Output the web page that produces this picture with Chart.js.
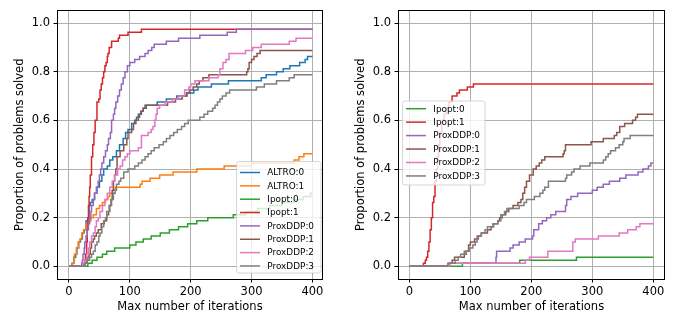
<!DOCTYPE html>
<html>
<head>
<meta charset="utf-8">
<script src="https://cdn.jsdelivr.net/npm/chart.js@4.4.1/dist/chart.umd.min.js"></script>
<style>
  html, body { margin: 0; padding: 0; background: #fff; }
  #wrap { position: relative; width: 683px; height: 320px; overflow: hidden; }
  canvas { position: absolute; top: 0; }
</style>
</head>
<body>
<div id="wrap">
  <canvas id="leftPlot" width="341" height="320" style="left:0px"></canvas>
  <canvas id="rightPlot" width="342" height="320" style="left:341px"></canvas>
</div>
<script>
// Tick values shared by both panels
const xTicks = [0, 100, 200, 300, 400];
const yTicks = [0.0, 0.2, 0.4, 0.6, 0.8, 1.0];

// Solver names drawn in each panel (legend order)
const leftNames = ['ALTRO:0', 'ALTRO:1', 'Ipopt:0', 'Ipopt:1', 'ProxDDP:0', 'ProxDDP:1', 'ProxDDP:2', 'ProxDDP:3'];
const rightNames = ['Ipopt:0', 'Ipopt:1', 'ProxDDP:0', 'ProxDDP:1', 'ProxDDP:2', 'ProxDDP:3'];

// Cumulative fraction of solved problems: [iterations, fraction]
// Left panel
const leftAltro0 = [[0,0],[5,0.0125],[8,0.0375],[11,0.05],[13,0.075],[16,0.1],[19,0.1125],[22,0.1375],[25,0.15],[28,0.1875],[31,0.2],[33,0.25],[35,0.2625],[38,0.275],[42,0.3],[46,0.325],[50,0.35],[54,0.375],[57,0.4],[63,0.4125],[67,0.4375],[72,0.45],[78,0.475],[83,0.5],[89,0.525],[93,0.55],[97,0.5625],[103,0.5875],[108,0.6],[111,0.6125],[116,0.625],[119,0.6375],[122,0.65],[125,0.6625],[145,0.675],[160,0.6875],[177,0.7],[193,0.7125],[205,0.725],[212,0.7375],[234,0.75],[262,0.7625],[316,0.775],[324,0.7875],[341,0.8],[352,0.8125],[363,0.825],[379,0.8375],[388,0.85],[392,0.8625],[400,0.8625]];
const leftAltro1 = [[0,0],[6,0.0125],[8,0.025],[9,0.05],[12,0.075],[15,0.1],[18,0.1125],[21,0.1375],[24,0.15],[28,0.175],[32,0.1875],[36,0.2],[40,0.2125],[45,0.2375],[50,0.25],[55,0.2625],[60,0.275],[64,0.2875],[67,0.3],[72,0.3125],[76,0.325],[117,0.3375],[120,0.35],[133,0.3625],[149,0.375],[171,0.3875],[210,0.4],[255,0.4125],[300,0.425],[370,0.4375],[378,0.45],[386,0.4625],[400,0.4625]];
const leftIpopt0 = [[0,0],[31,0.0125],[38,0.025],[46,0.0375],[55,0.05],[62,0.0625],[75,0.075],[100,0.0875],[110,0.1],[122,0.1125],[135,0.125],[150,0.1375],[165,0.15],[180,0.1625],[195,0.175],[210,0.1875],[228,0.2],[270,0.2125],[290,0.225],[310,0.2375],[330,0.25],[350,0.2625],[368,0.275],[385,0.2875],[397,0.3],[400,0.3]];
const leftIpopt1 = [[0,0],[24,0.0125],[26,0.025],[27,0.05],[29,0.1],[30,0.15],[31,0.2],[32,0.25],[33,0.2875],[34,0.325],[35,0.375],[37,0.45],[39,0.5],[41,0.55],[43,0.6],[46,0.675],[49,0.6875],[51,0.725],[53,0.75],[55,0.775],[57,0.8],[59,0.825],[61,0.8375],[63,0.8625],[64,0.875],[66,0.9],[70,0.925],[81,0.9375],[83,0.95],[97,0.9625],[119,0.975],[400,0.975]];
const leftProx0 = [[0,0],[21,0.0125],[22,0.025],[23,0.05],[25,0.075],[26,0.1],[28,0.125],[30,0.15],[32,0.175],[34,0.2],[36,0.225],[37,0.25],[40,0.275],[42,0.3],[45,0.325],[48,0.35],[50,0.375],[52,0.4],[54,0.425],[57,0.45],[60,0.475],[63,0.5],[65,0.525],[68,0.55],[70,0.6],[73,0.625],[75,0.65],[77,0.675],[80,0.7],[83,0.725],[86,0.75],[89,0.775],[92,0.8],[96,0.825],[100,0.8375],[108,0.85],[116,0.8625],[125,0.875],[130,0.8875],[136,0.9],[140,0.9125],[160,0.925],[180,0.9375],[215,0.95],[260,0.9625],[275,0.975],[400,0.975]];
const leftProx1 = [[0,0],[26,0.0125],[29,0.025],[31,0.0375],[33,0.05],[35,0.075],[37,0.1],[40,0.1125],[42,0.125],[45,0.1375],[48,0.15],[53,0.175],[58,0.1875],[62,0.2125],[65,0.225],[67,0.25],[69,0.275],[71,0.3125],[73,0.35],[75,0.375],[77,0.4],[79,0.45],[84,0.475],[90,0.5],[95,0.525],[97,0.55],[103,0.5625],[106,0.5875],[110,0.6],[114,0.625],[118,0.6375],[122,0.65],[127,0.6625],[162,0.675],[175,0.6875],[186,0.7],[194,0.7125],[198,0.725],[204,0.7375],[210,0.75],[214,0.7625],[220,0.775],[230,0.7875],[292,0.8],[294,0.8125],[296,0.8375],[300,0.85],[304,0.8625],[309,0.875],[314,0.8875],[400,0.8875]];
const leftProx2 = [[0,0],[23,0.0125],[26,0.025],[29,0.05],[32,0.075],[34,0.1],[37,0.125],[40,0.1375],[43,0.1625],[45,0.1875],[48,0.2],[51,0.225],[55,0.25],[59,0.275],[63,0.3],[67,0.325],[71,0.35],[75,0.375],[80,0.4],[84,0.4125],[88,0.4375],[92,0.45],[96,0.4625],[100,0.475],[114,0.4875],[119,0.5375],[130,0.55],[135,0.5625],[138,0.575],[141,0.6],[143,0.625],[145,0.65],[149,0.6625],[158,0.675],[170,0.6875],[180,0.7],[190,0.725],[197,0.7375],[200,0.75],[207,0.7625],[230,0.775],[245,0.7875],[248,0.8125],[253,0.8375],[258,0.85],[263,0.875],[290,0.8875],[302,0.9],[316,0.9125],[362,0.925],[373,0.9375],[400,0.9375]];
const leftProx3 = [[0,0],[26,0.0125],[30,0.025],[34,0.0375],[37,0.05],[40,0.0625],[43,0.0875],[46,0.1],[49,0.125],[51,0.1375],[54,0.1625],[57,0.1875],[60,0.2],[62,0.225],[66,0.25],[70,0.275],[73,0.3],[76,0.3125],[78,0.3375],[82,0.35],[85,0.3625],[90,0.3875],[97,0.4],[108,0.4125],[114,0.425],[120,0.4375],[125,0.45],[130,0.4625],[135,0.475],[140,0.4875],[148,0.5],[155,0.5125],[160,0.525],[166,0.5375],[172,0.55],[178,0.5625],[185,0.575],[190,0.5875],[196,0.6],[215,0.6125],[222,0.625],[228,0.6375],[236,0.65],[240,0.6625],[244,0.675],[248,0.6875],[252,0.7],[258,0.7125],[264,0.725],[308,0.7375],[321,0.75],[341,0.7625],[362,0.775],[370,0.7875],[400,0.7875]];

// Right panel
const rightIpopt0 = [[0,0],[87,0.0125],[181,0.025],[274,0.0375],[400,0.0375]];
const rightIpopt1 = [[0,0],[23,0.0125],[26,0.025],[28,0.0375],[30,0.0625],[32,0.1],[34,0.15],[36,0.2],[38,0.2625],[40,0.2875],[42,0.35],[44,0.4],[46,0.45],[48,0.5],[50,0.55],[53,0.6],[57,0.625],[60,0.65],[65,0.675],[70,0.7],[78,0.7125],[82,0.725],[95,0.7375],[105,0.75],[400,0.75]];
const rightProx0 = [[0,0],[65,0.0125],[142,0.0375],[143,0.0625],[165,0.075],[170,0.0875],[180,0.1],[190,0.1125],[202,0.125],[204,0.15],[212,0.175],[218,0.1875],[225,0.2],[232,0.2125],[240,0.225],[256,0.25],[258,0.275],[265,0.2875],[276,0.3],[300,0.3125],[308,0.325],[318,0.3375],[328,0.35],[345,0.3625],[355,0.375],[375,0.3875],[383,0.4],[392,0.4125],[396,0.425],[400,0.425]];
const rightProx1 = [[0,0],[66,0.0125],[70,0.025],[74,0.0375],[90,0.05],[93,0.0625],[97,0.0875],[100,0.1],[107,0.1125],[113,0.125],[118,0.1375],[128,0.15],[134,0.1625],[138,0.175],[145,0.1875],[148,0.2],[152,0.2125],[158,0.225],[163,0.2375],[170,0.25],[178,0.2625],[183,0.275],[186,0.3],[189,0.325],[192,0.35],[197,0.375],[203,0.4],[208,0.4125],[213,0.425],[217,0.4375],[222,0.45],[252,0.4625],[254,0.475],[256,0.5],[298,0.5125],[318,0.525],[336,0.5375],[340,0.55],[345,0.575],[353,0.5875],[366,0.6],[371,0.6125],[374,0.625],[400,0.625]];
const rightProx2 = [[0,0],[66,0.0125],[190,0.025],[197,0.0375],[227,0.0625],[268,0.1],[272,0.1125],[310,0.125],[344,0.1375],[358,0.15],[372,0.1625],[378,0.175],[400,0.175]];
const rightProx3 = [[0,0],[63,0.0125],[75,0.025],[80,0.0375],[84,0.05],[90,0.0625],[98,0.075],[104,0.0875],[108,0.1],[111,0.125],[118,0.1375],[124,0.15],[128,0.1625],[137,0.175],[145,0.1875],[150,0.2125],[156,0.225],[160,0.2375],[180,0.25],[188,0.2625],[192,0.275],[205,0.2875],[214,0.3],[219,0.3125],[222,0.325],[228,0.35],[256,0.3625],[258,0.375],[266,0.3875],[270,0.4],[280,0.4125],[296,0.425],[318,0.4375],[322,0.45],[326,0.4625],[330,0.475],[338,0.4875],[344,0.5],[350,0.5125],[352,0.525],[362,0.5375],[400,0.5375]];

const leftData = [leftAltro0, leftAltro1, leftIpopt0, leftIpopt1, leftProx0, leftProx1, leftProx2, leftProx3];
const rightData = [rightIpopt0, rightIpopt1, rightProx0, rightProx1, rightProx2, rightProx3];

// matplotlib "tab10" colours per solver
const solverColor = {
  'ALTRO:0': '#1f77b4', 'ALTRO:1': '#ff7f0e', 'Ipopt:0': '#2ca02c', 'Ipopt:1': '#d62728',
  'ProxDDP:0': '#9467bd', 'ProxDDP:1': '#8c564b', 'ProxDDP:2': '#e377c2', 'ProxDDP:3': '#7f7f7f'
};

const FONT = 'DejaVu Sans';

function roundedRect(ctx, x, y, w, h, r) {
  ctx.beginPath();
  ctx.moveTo(x + r, y);
  ctx.lineTo(x + w - r, y);
  ctx.arcTo(x + w, y, x + w, y + r, r);
  ctx.lineTo(x + w, y + h - r);
  ctx.arcTo(x + w, y + h, x + w - r, y + h, r);
  ctx.lineTo(x + r, y + h);
  ctx.arcTo(x, y + h, x, y + h - r, r);
  ctx.lineTo(x, y + r);
  ctx.arcTo(x, y, x + r, y, r);
  ctx.closePath();
}

// Axes frame on all four sides plus a boxed legend inside the plot area
const framePlugin = {
  id: 'frameAndLegend',
  afterDatasetsDraw(chart, args, opts) {
    const ctx = chart.ctx;
    const a = chart.chartArea;
    ctx.save();
    ctx.strokeStyle = '#000';
    ctx.lineWidth = 1;
    ctx.strokeRect(Math.round(a.left) + 0.5, Math.round(a.top) + 0.5,
                   Math.round(a.right) - Math.round(a.left) - 1, Math.round(a.bottom) - Math.round(a.top));

    const lg = opts.legend;
    if (lg) {
      roundedRect(ctx, lg.x, lg.y, lg.w, lg.h, 2.5);
      ctx.fillStyle = 'rgba(255,255,255,0.8)';
      ctx.fill();
      ctx.strokeStyle = '#cccccc';
      ctx.lineWidth = 0.8;
      ctx.stroke();
      ctx.font = lg.fontSize + 'px "' + FONT + '"';
      ctx.textBaseline = 'middle';
      ctx.textAlign = 'left';
      chart.data.datasets.forEach((ds, i) => {
        const yy = lg.firstRow + i * lg.rowStep;
        ctx.strokeStyle = ds.borderColor;
        ctx.lineWidth = 1.5;
        ctx.beginPath();
        ctx.moveTo(lg.lineX0, yy);
        ctx.lineTo(lg.lineX1, yy);
        ctx.stroke();
        ctx.fillStyle = '#000';
        ctx.fillText(ds.label, lg.textX, yy + 0.5);
      });
    }
    ctx.restore();
  }
};

function makePanel(canvasId, names, series, xRange, legend) {
  const datasets = names.map((name, i) => ({
    label: name,
    data: series[i].map(([x, y]) => ({ x, y })),
    borderColor: solverColor[name],
    backgroundColor: solverColor[name],
    borderWidth: 1.5,
    pointRadius: 0,
    stepped: 'before',
    fill: false,
    order: names.length - i
  }));

  const tickFont = { family: FONT, size: 11.5 };
  return new Chart(document.getElementById(canvasId), {
    type: 'line',
    data: { datasets },
    options: {
      responsive: false,
      animation: false,
      events: [],
      layout: { padding: { left: 0, right: 18, top: 5, bottom: 0 } },
      plugins: {
        legend: { display: false },
        tooltip: { enabled: false },
        frameAndLegend: { legend }
      },
      scales: {
        x: {
          type: 'linear',
          min: xRange[0],
          max: xRange[1],
          afterBuildTicks: s => { s.ticks = xTicks.map(v => ({ value: v })); },
          afterFit: s => { s.height = 41; },
          ticks: { font: tickFont, color: '#000', padding: 3, maxRotation: 0, autoSkip: false,
                   callback: v => String(v) },
          grid: { color: '#b0b0b0', lineWidth: 1, tickLength: 3.5, tickColor: '#000', tickWidth: 1 },
          border: { display: false },
          title: { display: true, text: 'Max number of iterations', font: tickFont, color: '#000',
                   padding: { top: 0, bottom: 6 } }
        },
        y: {
          type: 'linear',
          min: -0.052,
          max: 1.052,
          afterBuildTicks: s => { s.ticks = yTicks.map(v => ({ value: v })); },
          afterFit: s => { s.width = 57; },
          ticks: { font: tickFont, color: '#000', padding: 3.5, autoSkip: false,
                   callback: v => Number(v).toFixed(1) },
          grid: { color: '#b0b0b0', lineWidth: 1, tickLength: 3.5, tickColor: '#000', tickWidth: 1 },
          border: { display: false },
          title: { display: true, text: 'Proportion of problems solved', font: tickFont, color: '#000',
                   padding: { top: 13, bottom: 0 } }
        }
      }
    },
    plugins: [framePlugin]
  });
}

makePanel('leftPlot', leftNames, leftData, [-19.7, 417.4], {
  x: 236.5, y: 161.5, w: 84.5, h: 111.5,
  firstRow: 172.5, rowStep: 13.35, lineX0: 240, lineX1: 260, textX: 267.3, fontSize: 8.9
});
makePanel('rightPlot', rightNames, rightData, [-18.7, 419.2], {
  x: 402.5 - 341, y: 101, w: 82.5, h: 84,
  firstRow: 108.7, rowStep: 13.45, lineX0: 406 - 341, lineX1: 426 - 341, textX: 433.3 - 341, fontSize: 8.9
});
</script>
</body>
</html>
